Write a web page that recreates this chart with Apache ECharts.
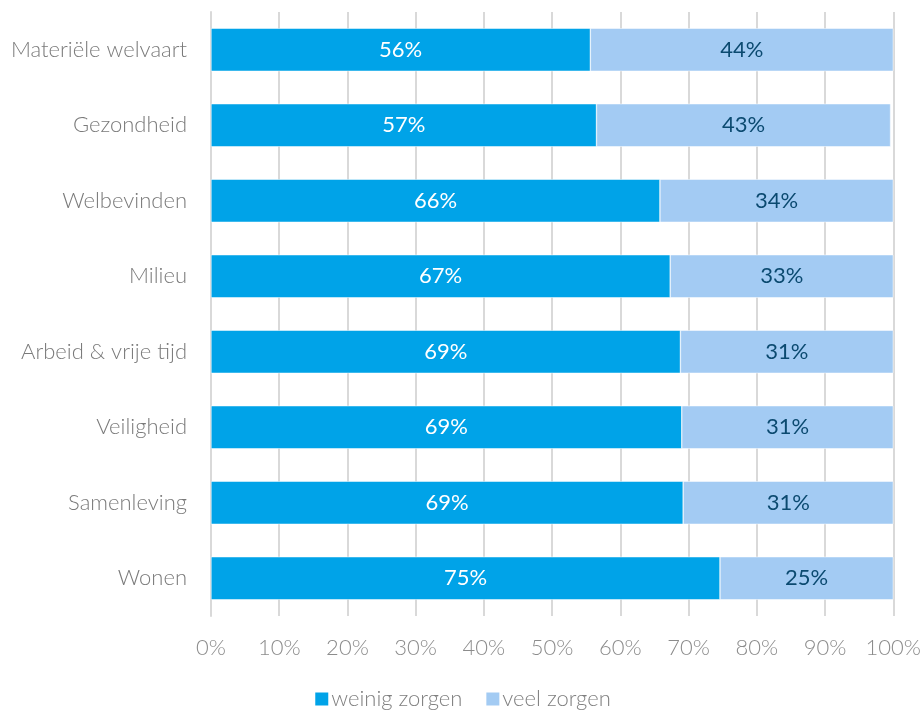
<!DOCTYPE html>
<html>
<head>
<meta charset="utf-8">
<script src="https://cdn.jsdelivr.net/npm/echarts@6/dist/echarts.min.js"></script>
<style>html,body{margin:0;padding:0;background:#fff}#c{width:924px;height:713px}</style>
</head>
<body>
<div id="c"></div>
<script>
const categories = ['Materiële welvaart','Gezondheid','Welbevinden','Milieu','Arbeid & vrije tijd','Veiligheid','Samenleving','Wonen'];
const weinigZorgen = [55.6, 56.5, 65.8, 67.3, 68.8, 69.0, 69.2, 74.6];
const veelZorgen = [44.4, 43.1, 34.2, 32.7, 31.2, 31.0, 30.8, 25.4];
const seriesNames = ['weinig zorgen','veel zorgen'];
const xTicks = [0,10,20,30,40,50,60,70,80,90,100];

const FONT = 'Lato';
const chart = echarts.init(document.getElementById('c'));
chart.setOption({
  animation: false,
  textStyle: {fontFamily: FONT},
  grid: {left: 211, right: 28, top: 12, bottom: 97, containLabel: false},
  legend: {
    bottom: -2, left: 'center',
    itemWidth: 15, itemHeight: 15, itemGap: 22,
    icon: 'rect',
    textStyle: {fontFamily: FONT, fontSize: 22, fontWeight: 300, color: '#7f7f7f', padding: [0,0,0,-3]},
    data: seriesNames
  },
  xAxis: {
    type: 'value', min: xTicks[0], max: xTicks[xTicks.length-1], interval: 10,
    axisLine: {show: false}, axisTick: {show: false},
    splitLine: {show: true, lineStyle: {color: '#d9d9d9', width: 2}},
    axisLabel: {formatter: v => v + '%', fontFamily: FONT, fontSize: 22, fontWeight: 300, color: '#8c8c8c', margin: 21}
  },
  yAxis: {
    type: 'category', data: categories, inverse: true,
    axisLine: {show: true, lineStyle: {color: '#d9d9d9', width: 2}},
    axisTick: {show: false},
    axisLabel: {fontFamily: FONT, fontSize: 22, fontWeight: 300, color: '#7a7a7a', margin: 24}
  },
  series: [
    {
      name: seriesNames[0], type: 'bar', stack: 't', data: weinigZorgen, barWidth: '57%',
      itemStyle: {color: '#00a3e8', borderColor: '#ffffff', borderWidth: 0.5},
      label: {show: true, position: 'inside', formatter: p => Math.round(p.value) + '%', color: '#ffffff', fontFamily: FONT, fontSize: 22, fontWeight: 400}
    },
    {
      name: seriesNames[1], type: 'bar', stack: 't', data: veelZorgen, barWidth: '57%',
      itemStyle: {color: '#a3cbf3', borderColor: '#ffffff', borderWidth: 0.5},
      label: {show: true, position: 'inside', formatter: p => Math.round(p.value) + '%', color: '#0b4a70', fontFamily: FONT, fontSize: 22, fontWeight: 400}
    }
  ]
});
</script>
</body>
</html>
